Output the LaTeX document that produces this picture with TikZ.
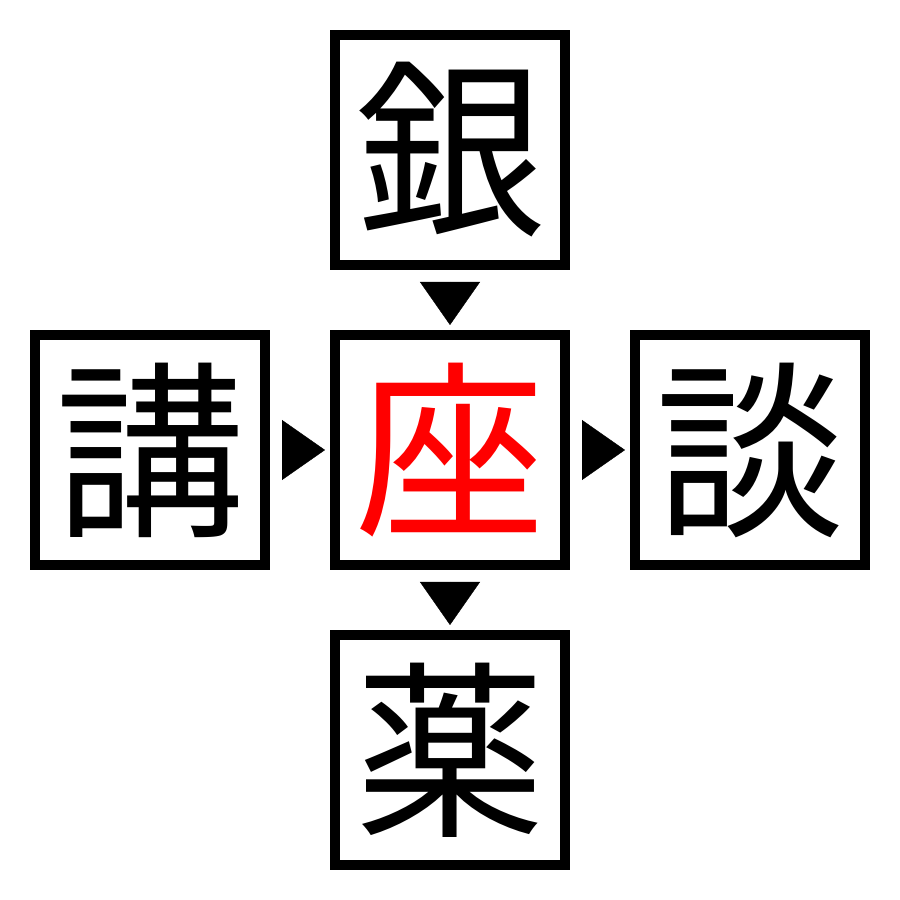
\documentclass[tikz,border=0pt]{standalone}
\usepackage{fontspec}
\newfontfamily\cjk{Noto Sans CJK JP}
\usetikzlibrary{arrows.meta}

\tikzset{
	kanji/.style={draw, line width=1mm, minimum size=2.3cm, inner sep=0pt,
		font=\cjk\fontsize{54}{54}\selectfont},
	tri/.style={line width=0.1pt, -{Triangle[length=4.3mm,width=6mm]}}
}

\begin{document}
\begin{tikzpicture}

	\useasboundingbox (0,0) rectangle (9,9);

	\node[kanji] (gin) at (4.5,7.5) {銀};
	\node[kanji] (kou) at (1.5,4.5) {講};
	\node[kanji, text=red] (za) at (4.5,4.5) {座};
	\node[kanji] (dan) at (7.5,4.5) {談};
	\node[kanji] (yaku) at (4.5,1.5) {薬};

	\draw[tri] ([yshift=-1.2mm]gin.south) -- ([yshift=0.5mm]za.north);
	\draw[tri] ([xshift=1.2mm]kou.east) -- ([xshift=-0.5mm]za.west);
	\draw[tri] ([xshift=1.2mm]za.east) -- ([xshift=-0.5mm]dan.west);
	\draw[tri] ([yshift=-1.2mm]za.south) -- ([yshift=0.5mm]yaku.north);

\end{tikzpicture}
\end{document}
